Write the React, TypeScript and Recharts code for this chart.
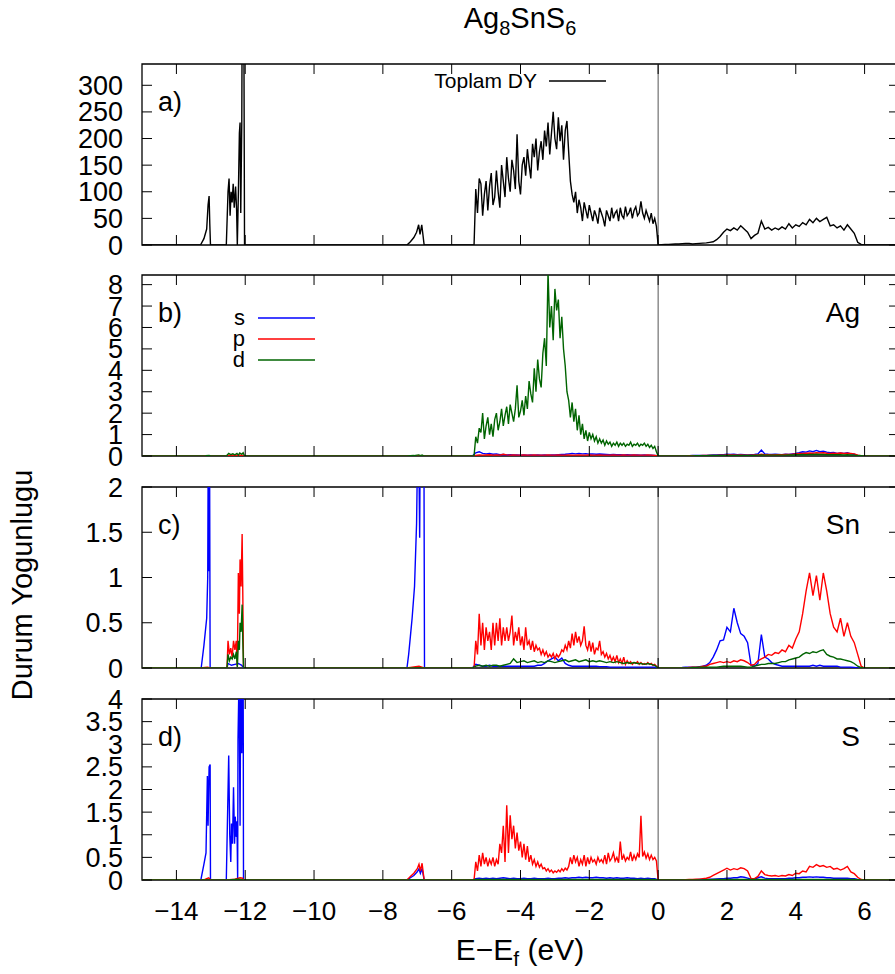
import { LineChart, Line, XAxis, YAxis, ReferenceLine, ReferenceArea } from "recharts"

// Ag8SnS6 total and partial density of states, four stacked panels

const FONT = "'Liberation Sans', Arial, Helvetica, sans-serif"
const BLUE = "#0000ff"
const RED = "#ff0000"
const GREEN = "#006400"

const X_TICKS = [-14, -12, -10, -8, -6, -4, -2, 0, 2, 4, 6]
const TOT_TICKS = [0, 50, 100, 150, 200, 250, 300]
const AG_TICKS = [0, 1, 2, 3, 4, 5, 6, 7, 8]
const SN_TICKS = [0, 0.5, 1, 1.5, 2]
const S_TICKS = [0, 0.5, 1, 1.5, 2, 2.5, 3, 3.5, 4]

// semicore states as [E, DOS] pairs; valence band on a grid from -5.35 (step 0.05)
// or -5.4 (step 0.1); conduction band from 0 to 6 (step 0.1)

const TOT_CORE = [
  [-15, 0], [-13.3, 0], [-13.2, 12], [-13.12, 30], [-13.08, 75], [-13.05, 92], [-13.03, 40], [-13.01, 0],
  [-12.55, 0], [-12.5, 100], [-12.47, 125], [-12.44, 55], [-12.41, 100], [-12.38, 80], [-12.35, 115],
  [-12.32, 70], [-12.28, 110], [-12.25, 65], [-12.23, 0], [-12.2, 95], [-12.17, 210], [-12.15, 230],
  [-12.13, 60], [-12.1, 230], [-12.09, 420], [-12.06, 380], [-12.04, 420], [-12.02, 0],
  [-7.3, 0], [-7.2, 6], [-7.1, 14], [-7.02, 24], [-6.96, 38], [-6.92, 20], [-6.87, 38], [-6.8, 0],
]
const TOT_VB = [
  0, 105, 60, 125, 115, 55, 95, 120, 65, 110,
  135, 75, 90, 140, 100, 70, 150, 120, 90, 165,
  125, 100, 160, 140, 105, 208, 120, 95, 150, 165,
  130, 180, 150, 125, 190, 165, 200, 140, 175, 195,
  160, 215, 185, 230, 170, 210, 250, 200, 180, 240,
  195, 225, 160, 215, 233, 175, 120, 95, 80, 100,
  60, 85, 70, 45, 80, 65, 50, 75, 60, 45,
  65, 55, 40, 70, 60, 50, 35, 65, 55, 45,
  70, 50, 60, 65, 45, 70, 55, 50, 72, 55,
  60, 70, 50, 65, 72, 55, 60, 82, 60, 50,
  65, 55, 45, 60, 40, 50, 35, 0,
]
const TOT_CB = [
  0, 0.5, 1, 1, 1.5, 2, 2, 2.5, 3, 3,
  2, 2.5, 3, 3.5, 4, 5, 6, 10, 16, 24,
  30, 27, 32, 28, 36, 30, 24, 12, 18, 22,
  45, 30, 33, 28, 32, 29, 34, 30, 40, 32,
  38, 35, 42, 38, 48, 42, 50, 44, 48, 52,
  36, 38, 32, 36, 28, 38, 30, 22, 5, 1,
  0,
]

const AG_S_CORE = [[-15, 0], [-13.3, 0], [-13.1, 0.01], [-13.01, 0], [-12.55, 0], [-12.4, 0.02], [-12.2, 0.03], [-12.02, 0], [-7.3, 0], [-6.95, 0.01], [-6.8, 0]]
const AG_S_VB = [
  0, 0.15, 0.2, 0.12, 0.1, 0.12, 0.08, 0.1, 0.06, 0.07,
  0.05, 0.06, 0.05, 0.05, 0.04, 0.05, 0.04, 0.05, 0.04, 0.05,
  0.04, 0.05, 0.04, 0.05, 0.05, 0.06, 0.07, 0.08, 0.1, 0.12,
  0.1, 0.12, 0.1, 0.11, 0.09, 0.1, 0.08, 0.09, 0.08, 0.07,
  0.06, 0.07, 0.06, 0.06, 0.05, 0.06, 0.05, 0.05, 0.05, 0.04,
  0.05, 0.04, 0.04, 0.03, 0,
]
const AG_S_CB = [
  0, 0, 0, 0, 0, 0, 0, 0.01, 0.01, 0.01,
  0.02, 0.02, 0.02, 0.03, 0.03, 0.04, 0.05, 0.05, 0.06, 0.06,
  0.08, 0.07, 0.08, 0.06, 0.07, 0.06, 0.05, 0.06, 0.07, 0.1,
  0.28, 0.1, 0.08, 0.07, 0.08, 0.07, 0.06, 0.08, 0.07, 0.1,
  0.12, 0.15, 0.2, 0.18, 0.24, 0.2, 0.26, 0.2, 0.22, 0.18,
  0.15, 0.16, 0.12, 0.14, 0.12, 0.15, 0.1, 0.08, 0.03, 0.01,
  0,
]
const AG_P_CORE = [[-15, 0], [-13.3, 0], [-13.05, 0.01], [-13.01, 0], [-12.55, 0], [-12.4, 0.02], [-12.15, 0.04], [-12.02, 0], [-7.3, 0], [-6.95, 0.01], [-6.8, 0]]
const AG_P_VB = [
  0, 0.03, 0.05, 0.04, 0.05, 0.06, 0.04, 0.05, 0.04, 0.08,
  0.05, 0.04, 0.05, 0.04, 0.04, 0.05, 0.04, 0.04, 0.05, 0.04,
  0.04, 0.04, 0.05, 0.04, 0.04, 0.05, 0.04, 0.04, 0.05, 0.04,
  0.04, 0.05, 0.04, 0.04, 0.05, 0.04, 0.04, 0.05, 0.04, 0.04,
  0.04, 0.05, 0.04, 0.04, 0.05, 0.04, 0.04, 0.05, 0.04, 0.04,
  0.04, 0.05, 0.04, 0.03, 0,
]
const AG_P_CB = [
  0, 0, 0, 0, 0, 0, 0, 0, 0, 0.01,
  0.01, 0.01, 0.01, 0.02, 0.02, 0.02, 0.03, 0.03, 0.04, 0.04,
  0.05, 0.05, 0.05, 0.04, 0.05, 0.04, 0.04, 0.04, 0.05, 0.05,
  0.08, 0.06, 0.06, 0.05, 0.06, 0.06, 0.06, 0.07, 0.07, 0.08,
  0.1, 0.12, 0.12, 0.13, 0.14, 0.13, 0.15, 0.14, 0.15, 0.13,
  0.12, 0.13, 0.12, 0.14, 0.12, 0.13, 0.12, 0.1, 0.04, 0.01,
  0,
]
const AG_D_CORE = [
  [-15, 0], [-13.3, 0], [-13.15, 0.01], [-13.05, 0.03], [-13.01, 0], [-12.55, 0], [-12.48, 0.12], [-12.42, 0.06],
  [-12.36, 0.1], [-12.3, 0.05], [-12.24, 0.12], [-12.2, 0.04], [-12.16, 0.14], [-12.1, 0.08], [-12.06, 0.15],
  [-12.02, 0], [-7.3, 0], [-7.1, 0.02], [-6.96, 0.05], [-6.9, 0.02], [-6.86, 0.05], [-6.8, 0],
]
const AG_D_VB = [
  0, 0.9, 0.6, 1.3, 1.1, 2.0, 0.8, 1.4, 1.8, 1.0,
  1.5, 0.9, 1.7, 2.0, 1.2, 1.6, 2.2, 1.4, 1.9, 2.3,
  1.5, 2.4, 2.0, 1.6, 2.2, 3.3, 1.8, 2.1, 2.6, 1.9,
  2.8, 2.2, 3.5, 2.9, 2.5, 4.1, 3.0, 4.5, 3.6, 3.2,
  4.8, 5.5, 4.2, 8.6, 6.0, 7.0, 5.4, 7.8, 6.8, 7.3,
  5.5, 6.5, 5.0, 4.2, 3.0, 2.6, 1.8, 2.5, 1.6, 2.2,
  1.2, 1.9, 1.0, 1.5, 0.8, 1.2, 0.7, 1.1, 0.8, 1.0,
  0.7, 0.9, 0.6, 0.8, 0.6, 0.75, 0.5, 0.7, 0.55, 0.65,
  0.45, 0.6, 0.5, 0.65, 0.45, 0.6, 0.5, 0.6, 0.45, 0.55,
  0.5, 0.65, 0.45, 0.55, 0.5, 0.6, 0.45, 0.55, 0.5, 0.6,
  0.45, 0.55, 0.4, 0.5, 0.35, 0.45, 0.2, 0,
]
const AG_D_CB = [
  0, 0, 0, 0, 0, 0, 0, 0, 0, 0,
  0, 0.01, 0.01, 0.01, 0.01, 0.02, 0.02, 0.02, 0.03, 0.03,
  0.03, 0.03, 0.03, 0.03, 0.03, 0.03, 0.02, 0.03, 0.03, 0.04,
  0.05, 0.04, 0.04, 0.04, 0.04, 0.04, 0.04, 0.04, 0.05, 0.05,
  0.06, 0.06, 0.07, 0.06, 0.07, 0.07, 0.08, 0.07, 0.07, 0.06,
  0.06, 0.06, 0.06, 0.06, 0.05, 0.06, 0.05, 0.04, 0.02, 0.01,
  0,
]

const SN_S_CORE = [
  [-15, 0], [-13.28, 0], [-13.2, 0.25], [-13.12, 0.55], [-13.09, 1.0], [-13.07, 3], [-13.05, 1.07], [-13.04, 3],
  [-13.02, 0], [-12.53, 0], [-12.5, 0.05], [-12.4, 0.03], [-12.3, 0.04], [-12.2, 0.05], [-12.1, 0.03], [-12.05, 0],
  [-7.3, 0], [-7.25, 0.15], [-7.2, 0.35], [-7.15, 0.55], [-7.08, 0.9], [-7.02, 1.6], [-6.97, 3], [-6.93, 1.44],
  [-6.91, 3], [-6.81, 3], [-6.79, 0],
]
const SN_S_VB = [
  0, 0.04, 0.03, 0.02, 0.02, 0.03, 0.02, 0.02, 0.02, 0.02,
  0.02, 0.02, 0.02, 0.02, 0.02, 0.02, 0.02, 0.02, 0.02, 0.03,
  0.03, 0.05, 0.08, 0.1, 0.12, 0.08, 0.11, 0.05, 0.03, 0.02,
  0.02, 0.02, 0.02, 0.02, 0.02, 0.02, 0.02, 0.015, 0.015, 0.015,
  0.01, 0.01, 0.01, 0.01, 0.01, 0.01, 0.01, 0.01, 0.01, 0.01,
  0.01, 0.01, 0.01, 0.01, 0,
]
const SN_S_CB = [
  0, 0, 0, 0, 0, 0, 0.003, 0.005, 0.01, 0.01,
  0.01, 0.01, 0.015, 0.02, 0.03, 0.06, 0.12, 0.2, 0.3, 0.31,
  0.45, 0.4, 0.66, 0.5, 0.38, 0.35, 0.28, 0.03, 0.02, 0.05,
  0.37, 0.12, 0.1, 0.06, 0.04, 0.03, 0.02, 0.02, 0.02, 0.02,
  0.02, 0.02, 0.02, 0.02, 0.02, 0.03, 0.02, 0.03, 0.02, 0.02,
  0.02, 0.02, 0.02, 0.01, 0.01, 0.01, 0.01, 0.005, 0, 0,
  0,
]
const SN_P_CORE = [
  [-15, 0], [-13.3, 0], [-13.1, 0.01], [-13.01, 0], [-12.53, 0], [-12.5, 0.3], [-12.46, 0.15], [-12.42, 0.22],
  [-12.38, 0.12], [-12.34, 0.3], [-12.3, 0.2], [-12.26, 0.3], [-12.23, 0.02], [-12.2, 1.05], [-12.17, 0.6],
  [-12.15, 1.2], [-12.12, 0.9], [-12.09, 1.48], [-12.07, 0.8], [-12.05, 0], [-7.3, 0], [-6.95, 0.02], [-6.8, 0],
]
const SN_P_VB = [
  0, 0.3, 0.15, 0.6, 0.25, 0.5, 0.2, 0.45, 0.3, 0.4,
  0.2, 0.5, 0.25, 0.5, 0.3, 0.55, 0.25, 0.45, 0.3, 0.45,
  0.3, 0.4, 0.58, 0.25, 0.4, 0.3, 0.45, 0.25, 0.35, 0.2,
  0.45, 0.25, 0.3, 0.2, 0.3, 0.18, 0.25, 0.2, 0.22, 0.15,
  0.2, 0.14, 0.18, 0.12, 0.15, 0.12, 0.16, 0.1, 0.15, 0.12,
  0.15, 0.2, 0.18, 0.25, 0.2, 0.3, 0.22, 0.38, 0.25, 0.4,
  0.28, 0.35, 0.25, 0.3, 0.46, 0.25, 0.2, 0.3, 0.18, 0.28,
  0.15, 0.22, 0.2, 0.3, 0.15, 0.18, 0.12, 0.16, 0.1, 0.14,
  0.08, 0.12, 0.07, 0.14, 0.06, 0.1, 0.05, 0.12, 0.04, 0.08,
  0.05, 0.07, 0.04, 0.06, 0.05, 0.07, 0.04, 0.06, 0.04, 0.05,
  0.04, 0.06, 0.04, 0.05, 0.03, 0.04, 0.02, 0,
]
const SN_P_CB = [
  0, 0, 0, 0, 0, 0, 0, 0, 0, 0.005,
  0.01, 0.01, 0.01, 0.02, 0.02, 0.04, 0.05, 0.06, 0.07, 0.06,
  0.07, 0.06, 0.08, 0.07, 0.09, 0.08, 0.06, 0.03, 0.04, 0.08,
  0.1, 0.12, 0.15, 0.14, 0.17, 0.16, 0.2, 0.18, 0.25, 0.22,
  0.32, 0.4, 0.6, 0.85, 1.05, 0.8, 1.02, 0.75, 1.05, 0.85,
  0.6, 0.45, 0.4, 0.55, 0.35, 0.5, 0.35, 0.28, 0.15, 0.02,
  0,
]
const SN_D_CORE = [
  [-15, 0], [-12.53, 0], [-12.5, 0.15], [-12.46, 0.08], [-12.42, 0.12], [-12.38, 0.1], [-12.34, 0.15], [-12.3, 0.1],
  [-12.26, 0.18], [-12.23, 0.01], [-12.2, 0.3], [-12.17, 0.2], [-12.15, 0.5], [-12.12, 0.4], [-12.09, 0.7],
  [-12.07, 0.3], [-12.05, 0],
]
const SN_D_VB = [
  0, 0.02, 0.03, 0.02, 0.03, 0.02, 0.03, 0.03, 0.02, 0.03,
  0.04, 0.05, 0.1, 0.06, 0.07, 0.08, 0.06, 0.07, 0.08, 0.06,
  0.07, 0.06, 0.08, 0.07, 0.06, 0.07, 0.08, 0.09, 0.07, 0.08,
  0.09, 0.07, 0.08, 0.09, 0.07, 0.08, 0.07, 0.08, 0.07, 0.06,
  0.07, 0.06, 0.07, 0.06, 0.05, 0.06, 0.05, 0.06, 0.05, 0.05,
  0.04, 0.05, 0.04, 0.03, 0,
]
const SN_D_CB = [
  0, 0, 0, 0, 0, 0, 0, 0, 0, 0,
  0.005, 0.005, 0.01, 0.01, 0.01, 0.01, 0.01, 0.01, 0.015, 0.02,
  0.02, 0.02, 0.02, 0.02, 0.02, 0.015, 0.01, 0.01, 0.02, 0.03,
  0.04, 0.04, 0.05, 0.05, 0.05, 0.06, 0.07, 0.07, 0.09, 0.1,
  0.11, 0.12, 0.15, 0.17, 0.16, 0.18, 0.17, 0.19, 0.2, 0.15,
  0.13, 0.12, 0.1, 0.1, 0.09, 0.08, 0.07, 0.05, 0.02, 0.005,
  0,
]

const S_S_CORE = [
  [-15, 0], [-13.29, 0], [-13.2, 0.35], [-13.14, 0.6], [-13.1, 2.3], [-13.08, 1.2], [-13.05, 2.5], [-13.02, 2.55],
  [-13.01, 0], [-12.55, 0], [-12.48, 2.75], [-12.45, 1.0], [-12.42, 0.4], [-12.4, 1.25], [-12.37, 0.8], [-12.34, 2.05],
  [-12.31, 0.8], [-12.29, 1.4], [-12.26, 0.95], [-12.24, 1.3], [-12.22, 0], [-12.21, 3.1], [-12.18, 4.5], [-12.15, 1.2],
  [-12.13, 4.5], [-12.1, 2.8], [-12.08, 4.5], [-12.06, 4.5], [-12.05, 0],
  [-7.3, 0], [-7.2, 0.05], [-7.1, 0.1], [-7.0, 0.18], [-6.95, 0.25], [-6.91, 0.15], [-6.86, 0.25], [-6.8, 0],
]
const S_S_VB = [
  0, 0.03, 0.04, 0.03, 0.04, 0.03, 0.04, 0.03, 0.04, 0.05,
  0.04, 0.03, 0.04, 0.03, 0.03, 0.04, 0.03, 0.03, 0.04, 0.03,
  0.03, 0.03, 0.04, 0.03, 0.03, 0.04, 0.04, 0.05, 0.04, 0.05,
  0.05, 0.06, 0.05, 0.06, 0.05, 0.05, 0.06, 0.05, 0.05, 0.04,
  0.05, 0.04, 0.05, 0.04, 0.04, 0.05, 0.04, 0.04, 0.03, 0.04,
  0.03, 0.04, 0.03, 0.03, 0,
]
const S_S_CB = [
  0, 0, 0, 0, 0, 0, 0, 0, 0, 0,
  0.005, 0.005, 0.01, 0.01, 0.01, 0.015, 0.02, 0.025, 0.03, 0.03,
  0.04, 0.04, 0.05, 0.05, 0.07, 0.06, 0.04, 0.02, 0.02, 0.05,
  0.07, 0.04, 0.03, 0.03, 0.03, 0.03, 0.03, 0.03, 0.04, 0.04,
  0.05, 0.05, 0.06, 0.06, 0.07, 0.06, 0.07, 0.06, 0.06, 0.05,
  0.05, 0.04, 0.04, 0.04, 0.04, 0.04, 0.03, 0.03, 0.01, 0.005,
  0,
]
const S_P_CORE = [
  [-15, 0], [-13.2, 0], [-13.12, 0.03], [-13.06, 0.05], [-13.01, 0], [-12.55, 0], [-12.3, 0.02], [-12.15, 0.05],
  [-12.08, 0.04], [-12.05, 0], [-7.3, 0], [-7.2, 0.08], [-7.1, 0.15], [-7.0, 0.25], [-6.95, 0.35], [-6.91, 0.2],
  [-6.86, 0.37], [-6.8, 0],
]
const S_P_VB = [
  0, 0.4, 0.2, 0.55, 0.3, 0.6, 0.35, 0.5, 0.3, 0.45,
  0.35, 0.5, 0.3, 0.45, 0.35, 0.8, 0.6, 1.2, 0.4, 1.65,
  0.6, 1.43, 0.9, 1.2, 0.7, 1.05, 0.65, 0.85, 0.5, 0.8,
  0.45, 0.75, 0.4, 0.55, 0.35, 0.45, 0.3, 0.4, 0.28, 0.35,
  0.25, 0.27, 0.2, 0.25, 0.18, 0.22, 0.16, 0.2, 0.17, 0.22,
  0.18, 0.25, 0.2, 0.26, 0.22, 0.3, 0.5, 0.35, 0.55, 0.4,
  0.5, 0.3, 0.45, 0.35, 0.55, 0.3, 0.5, 0.35, 0.5, 0.4,
  0.45, 0.35, 0.5, 0.4, 0.45, 0.38, 0.55, 0.35, 0.6, 0.42,
  0.48, 0.6, 0.42, 0.5, 0.38, 0.85, 0.45, 0.55, 0.42, 0.5,
  0.45, 0.62, 0.42, 0.55, 0.45, 0.58, 0.5, 1.42, 0.52, 0.62,
  0.48, 0.58, 0.45, 0.55, 0.45, 0.5, 0.42, 0,
]
const S_P_CB = [
  0, 0, 0, 0, 0, 0, 0, 0, 0.005, 0.01,
  0.01, 0.015, 0.02, 0.03, 0.04, 0.06, 0.1, 0.14, 0.18, 0.22,
  0.26, 0.22, 0.25, 0.23, 0.27, 0.25, 0.2, 0.03, 0.03, 0.08,
  0.2, 0.12, 0.1, 0.09, 0.1, 0.08, 0.1, 0.09, 0.12, 0.1,
  0.15, 0.14, 0.2, 0.18, 0.3, 0.28, 0.34, 0.3, 0.32, 0.28,
  0.3, 0.24, 0.26, 0.22, 0.25, 0.3, 0.18, 0.14, 0.06, 0.01,
  0,
]
const S_D_CORE = [[-15, 0], [-12.5, 0], [-12.2, 0.02], [-12.05, 0]]
const S_D_VB = [
  0, 0.01, 0.01, 0.01, 0.01, 0.01, 0.01, 0.01, 0.01, 0.01,
  0.01, 0.01, 0.01, 0.01, 0.01, 0.01, 0.01, 0.01, 0.01, 0.01,
  0.01, 0.01, 0.01, 0.01, 0.01, 0.01, 0.01, 0.01, 0.01, 0.01,
  0.01, 0.01, 0.01, 0.01, 0.01, 0.01, 0.01, 0.01, 0.01, 0.01,
  0.01, 0.01, 0.01, 0.01, 0.01, 0.01, 0.01, 0.01, 0.01, 0.01,
  0.01, 0.01, 0.01, 0.01, 0,
]
const S_D_CB = [
  0, 0, 0, 0, 0, 0, 0, 0, 0, 0,
  0, 0, 0, 0, 0.005, 0.005, 0.01, 0.01, 0.01, 0.01,
  0.01, 0.01, 0.01, 0.01, 0.01, 0.01, 0.01, 0.01, 0.01, 0.01,
  0.01, 0.01, 0.01, 0.01, 0.01, 0.01, 0.01, 0.01, 0.01, 0.01,
  0.01, 0.01, 0.01, 0.01, 0.01, 0.01, 0.01, 0.01, 0.01, 0.01,
  0.01, 0.01, 0.01, 0.01, 0.01, 0.01, 0.01, 0.01, 0.005, 0,
  0,
]

type Pt = { x: number; y: number }

function build(core: number[][], vb: number[], cb: number[]): Pt[] {
  const fine = vb.length > 60
  const start = fine ? -5.35 : -5.4
  const step = fine ? 0.05 : 0.1
  return [
    ...core.map(([x, y]) => ({ x, y })),
    ...vb.map((y, i) => ({ x: +(start + i * step).toFixed(3), y })),
    ...cb.map((y, i) => ({ x: +(i * 0.1).toFixed(3), y })),
    { x: 7, y: 0 },
  ]
}

const PANELS = [
  { top: 64, yMax: 340, ticks: TOT_TICKS, lines: [{ key: "tot", color: "#000000", data: build(TOT_CORE, TOT_VB, TOT_CB) }] },
  {
    top: 275, yMax: 8.45, ticks: AG_TICKS, lines: [
      { key: "s", color: BLUE, data: build(AG_S_CORE, AG_S_VB, AG_S_CB) },
      { key: "p", color: RED, data: build(AG_P_CORE, AG_P_VB, AG_P_CB) },
      { key: "d", color: GREEN, data: build(AG_D_CORE, AG_D_VB, AG_D_CB) },
    ],
  },
  {
    top: 487, yMax: 2, ticks: SN_TICKS, lines: [
      { key: "s", color: BLUE, data: build(SN_S_CORE, SN_S_VB, SN_S_CB) },
      { key: "p", color: RED, data: build(SN_P_CORE, SN_P_VB, SN_P_CB) },
      { key: "d", color: GREEN, data: build(SN_D_CORE, SN_D_VB, SN_D_CB) },
    ],
  },
  {
    top: 699, yMax: 4, ticks: S_TICKS, lines: [
      { key: "s", color: BLUE, data: build(S_S_CORE, S_S_VB, S_S_CB) },
      { key: "p", color: RED, data: build(S_P_CORE, S_P_VB, S_P_CB) },
      { key: "d", color: GREEN, data: build(S_D_CORE, S_D_VB, S_D_CB) },
    ],
  },
]

const PAD = 16
const PH = 181
const TICK = 10
const fmt = (v: number) => (v < 0 ? "\u2212" + Math.abs(v) : String(v))

// plot edges are passed in so tick marks can be drawn inward from the frame
const bottomTick = (labels: boolean, yb: number) => (p: any) => (
  <g>
    <line x1={p.x} x2={p.x} y1={yb} y2={yb - TICK} stroke="#000" strokeWidth={1} />
    {labels && (
      <text x={p.x} y={yb + 40} textAnchor="middle" fontSize={26} fontFamily={FONT} fill="#000">
        {fmt(p.payload.value)}
      </text>
    )}
  </g>
)
const topTick = (yt: number) => (p: any) => (
  <line x1={p.x} x2={p.x} y1={yt} y2={yt + TICK} stroke="#000" strokeWidth={1} />
)
const leftTick = (p: any) => (
  <g>
    <line x1={142} x2={142 + TICK} y1={p.y} y2={p.y} stroke="#000" strokeWidth={1} />
    <text x={123} y={p.y + 9.5} textAnchor="end" fontSize={27} fontFamily={FONT} fill="#000">
      {fmt(p.payload.value)}
    </text>
  </g>
)
const rightTick = (p: any) => <line x1={899} x2={899 - TICK} y1={p.y} y2={p.y} stroke="#000" strokeWidth={1} />

function Panel({ top, yMax, ticks, lines, labels }: any) {
  const bottom = labels ? 60 : 14
  const yt = PAD
  const yb = PAD + PH
  return (
    <div style={{ position: "absolute", left: 0, top: top - PAD }}>
      <LineChart width={900} height={PAD + PH + bottom} margin={{ top: PAD - 1, right: 0, bottom: bottom - 1, left: 0 }}>
        <XAxis xAxisId="b" type="number" dataKey="x" domain={[-15, 7]} allowDataOverflow ticks={X_TICKS}
          interval={0} height={1} tickSize={0} tickMargin={0} tickLine={false} axisLine={false} tick={bottomTick(labels, yb)} />
        <XAxis xAxisId="t" orientation="top" type="number" dataKey="x" domain={[-15, 7]} allowDataOverflow ticks={X_TICKS}
          interval={0} height={1} tickSize={0} tickMargin={0} tickLine={false} axisLine={false} tick={topTick(yt)} />
        <YAxis yAxisId="l" type="number" domain={[0, yMax]} allowDataOverflow ticks={ticks} interval={0}
          width={142} tickSize={0} tickMargin={0} tickLine={false} axisLine={false} tick={leftTick} />
        <YAxis yAxisId="r" orientation="right" type="number" domain={[0, yMax]} allowDataOverflow ticks={ticks} interval={0}
          width={1} tickSize={0} tickMargin={0} tickLine={false} axisLine={false} tick={rightTick} />
        <ReferenceLine xAxisId="b" yAxisId="l" x={0} stroke="#555" strokeWidth={1} />
        {lines.map((l: any) => (
          <Line key={l.key} xAxisId="b" yAxisId="l" data={l.data} dataKey="y" type="linear" stroke={l.color}
            strokeWidth={1.4} dot={false} isAnimationActive={false} />
        ))}
        <ReferenceArea xAxisId="b" yAxisId="l" x1={-15} x2={7} y1={0} y2={yMax} fill="none" fillOpacity={0}
          stroke="#000" strokeWidth={1.3} ifOverflow="visible" />
      </LineChart>
    </div>
  )
}

export default function App() {
  const tops = PANELS.map((p) => p.top)
  return (
    <div style={{ position: "absolute", left: 0, top: 0, width: 895, height: 974, overflow: "hidden", background: "#fff" }}>
      {PANELS.map((p, i) => (
        <Panel key={i} top={p.top} yMax={p.yMax} ticks={p.ticks} lines={p.lines} labels={i === PANELS.length - 1} />
      ))}
      <svg width={895} height={974} style={{ position: "absolute", left: 0, top: 0, pointerEvents: "none" }}
        fontFamily={FONT} fill="#000">
        <text x={520} y={28} textAnchor="middle" fontSize={29}>
          Ag<tspan fontSize={20} dy={7}>8</tspan><tspan dy={-7}>SnS</tspan><tspan fontSize={20} dy={7}>6</tspan>
        </text>
        <text transform="translate(32,585) rotate(-90)" textAnchor="middle" fontSize={29}>Durum Yogunlugu</text>
        <text x={520} y={960} textAnchor="middle" fontSize={30} style={{ whiteSpace: "pre" }}>
          E{"\u2212"}E<tspan fontSize={21} dy={6}>f</tspan><tspan dy={-6}> (eV)</tspan>
        </text>
        {["a)", "b)", "c)", "d)"].map((t, i) => (
          <text key={t} x={158} y={tops[i] + 47} fontSize={27}>{t}</text>
        ))}
        {["", "Ag", "Sn", "S"].map((t, i) => (
          <text key={i} x={860} y={tops[i] + 47} textAnchor="end" fontSize={28}>{t}</text>
        ))}
        <text x={537} y={88} textAnchor="end" fontSize={21}>Toplam DY</text>
        <line x1={549} x2={606} y1={81} y2={81} stroke="#000" strokeWidth={1.4} />
        {[["s", BLUE], ["p", RED], ["d", GREEN]].map(([t, c], i) => (
          <g key={t}>
            <text x={245} y={325 + i * 21} textAnchor="end" fontSize={22}>{t}</text>
            <line x1={258} x2={315} y1={318 + i * 21} y2={318 + i * 21} stroke={c} strokeWidth={1.4} />
          </g>
        ))}
      </svg>
    </div>
  )
}
